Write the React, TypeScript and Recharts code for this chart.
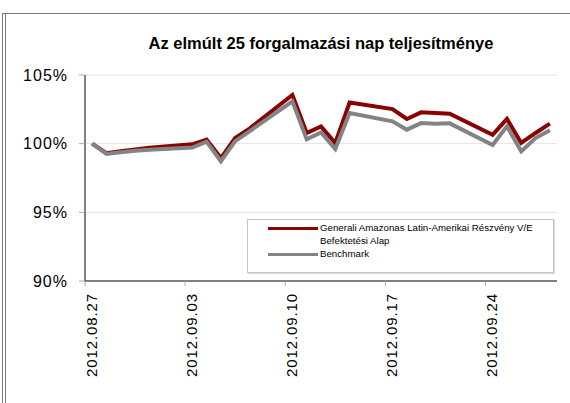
import React from 'react';
import { LineChart, Line, XAxis, YAxis, CartesianGrid } from 'recharts';

const dates = [
  '2012.08.27', '2012.08.28', '2012.08.29', '2012.08.30', '2012.08.31',
  '2012.09.03', '2012.09.04', '2012.09.05', '2012.09.06', '2012.09.07',
  '2012.09.10', '2012.09.11', '2012.09.12', '2012.09.13', '2012.09.14',
  '2012.09.17', '2012.09.18', '2012.09.19', '2012.09.20', '2012.09.21',
  '2012.09.24', '2012.09.25', '2012.09.26', '2012.09.27', '2012.09.28',
];

const fundValues = [
  100.0, 99.3, 99.45, 99.58, 99.7,
  99.95, 100.3, 98.95, 100.42, 101.1,
  103.55, 100.78, 101.26, 100.05, 103.0,
  102.52, 101.8, 102.28, 102.23, 102.18,
  100.64, 101.8, 100.05, 100.78, 101.46,
];

const benchmarkValues = [
  100.0, 99.25, 99.38, 99.48, 99.56,
  99.72, 100.15, 98.72, 100.18, 100.9,
  103.08, 100.32, 100.82, 99.61, 102.23,
  101.63, 101.02, 101.5, 101.45, 101.48,
  99.9, 101.26, 99.44, 100.41, 100.97,
];

const xTickLabels = ['2012.08.27', '2012.09.03', '2012.09.10', '2012.09.17', '2012.09.24'];
const yTicks = [90, 95, 100, 105];

const seriesNames = ['Generali Amazonas Latin-Amerikai Részvény V/E Befektetési Alap', 'Benchmark'];
const titleText = 'Az elmúlt 25 forgalmazási nap teljesítménye';

const FONT = '"Liberation Sans", Arial, Helvetica, sans-serif';
const RED = '#8b0000';
const GRAY = '#838383';

const toDay = (s: string) => {
  const [y, m, d] = s.split('.').map(Number);
  return Date.UTC(y, m - 1, d) / 86400000;
};
const baseDay = toDay(dates[0]);
const dayIndex = (s: string) => toDay(s) - baseDay;

const data = dates.map((dt, i) => ({
  d: dayIndex(dt),
  fund: fundValues[i],
  bench: benchmarkValues[i],
}));

const xTicks = xTickLabels.map((l) => dayIndex(l) - 0.5);
const lastDay = dayIndex(dates[dates.length - 1]);

const XTick = (props: any) => {
  const { x, payload } = props;
  const idx = xTicks.indexOf(payload.value);
  const label = idx >= 0 ? xTickLabels[idx] : '';
  const ax = x + 11.5;
  const ay = 293;
  return (
    <text
      x={ax}
      y={ay}
      transform={`rotate(-90, ${ax}, ${ay})`}
      textAnchor="end"
      fontSize={15}
      letterSpacing={0.9}
      fontFamily={FONT}
      fill="#000"
    >
      {label}
    </text>
  );
};

export default function App() {
  return (
    <div
      style={{
        position: 'absolute',
        left: 0,
        top: 0,
        width: 570,
        height: 403,
        background: '#fff',
        fontFamily: FONT,
        overflow: 'hidden',
      }}
    >
      <div style={{ position: 'absolute', left: 2, top: 13, width: 1, height: 390, background: '#7a7a7a' }} />
      <div style={{ position: 'absolute', left: 5, top: 13, width: 1, height: 390, background: '#7a7a7a' }} />
      <div style={{ position: 'absolute', left: 2, top: 13, width: 568, height: 1, background: '#7a7a7a' }} />
      <div
        style={{
          position: 'absolute',
          left: 85,
          width: 472,
          top: 34,
          textAlign: 'center',
          fontWeight: 'bold',
          fontSize: 16.5,
          color: '#000',
          whiteSpace: 'nowrap',
        }}
      >
        {titleText}
      </div>
      <div style={{ position: 'absolute', left: 0, top: 0 }}>
        <LineChart
          width={570}
          height={403}
          data={data}
          margin={{ top: 75, right: 13, bottom: 0, left: 0 }}
        >
          <CartesianGrid horizontal vertical={false} stroke="#e2e2e2" horizontalValues={[95, 100, 105]} />
          <XAxis
            dataKey="d"
            type="number"
            domain={[-0.5, lastDay + 0.5]}
            ticks={xTicks}
            interval={0}
            allowDataOverflow
            axisLine={{ stroke: '#000' }}
            tickLine={{ stroke: '#aaa' }}
            tickSize={5}
            tick={<XTick />}
            height={122}
          />
          <YAxis
            type="number"
            domain={[90, 105]}
            ticks={yTicks}
            interval={0}
            width={85}
            axisLine={{ stroke: '#000' }}
            tickLine={{ stroke: '#aaa' }}
            tickSize={6}
            tickMargin={11}
            tickFormatter={(v: number) => `${v}%`}
            tick={{ fontSize: 16, fill: '#000', fontFamily: FONT, letterSpacing: 1 }}
          />
          <Line
            type="linear"
            dataKey="fund"
            stroke={RED}
            strokeWidth={4}
            dot={false}
            isAnimationActive={false}
          />
          <Line
            type="linear"
            dataKey="bench"
            stroke={GRAY}
            strokeWidth={4}
            dot={false}
            isAnimationActive={false}
          />
        </LineChart>
      </div>
      <div
        style={{
          position: 'absolute',
          left: 247,
          top: 219,
          width: 305,
          height: 52,
          border: '1px solid #c4c4c4',
          boxShadow: '1px 1px 1px #e0e0e0',
          background: '#fff',
          fontSize: 9.7,
          color: '#000',
        }}
      >
        <div style={{ position: 'absolute', left: 20, top: 7, width: 50, height: 3, background: RED }} />
        <div style={{ position: 'absolute', left: 72, top: 2, lineHeight: '12.5px', width: 230 }}>
          {seriesNames[0]}
        </div>
        <div style={{ position: 'absolute', left: 20, top: 33, width: 50, height: 3, background: GRAY }} />
        <div style={{ position: 'absolute', left: 72, top: 28, lineHeight: '12.5px' }}>{seriesNames[1]}</div>
      </div>
    </div>
  );
}
